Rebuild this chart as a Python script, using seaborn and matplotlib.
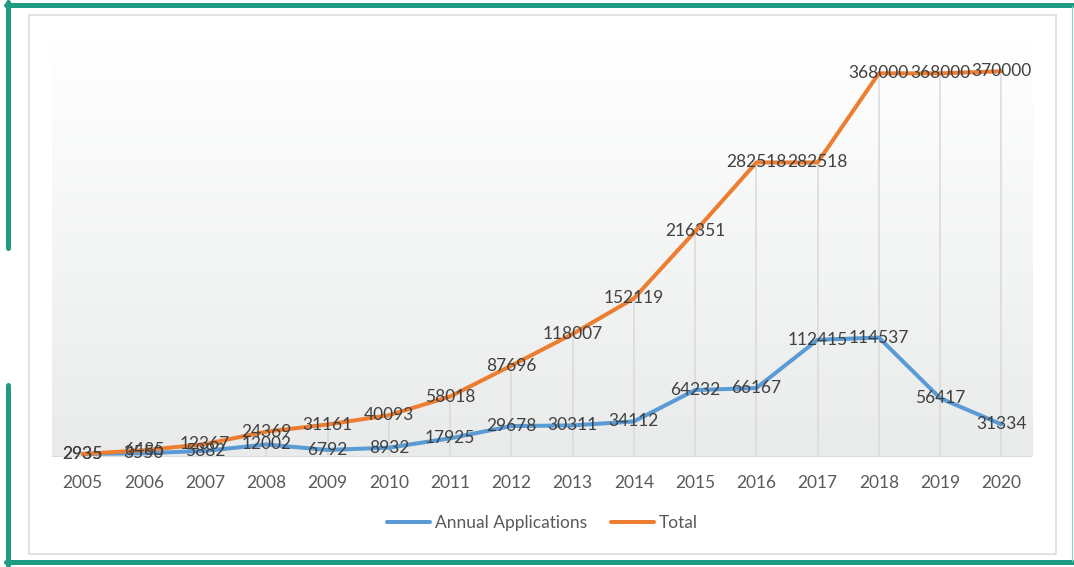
import numpy as np
import pandas as pd
import matplotlib.pyplot as plt
import seaborn as sns
from matplotlib.lines import Line2D
from matplotlib.patches import Rectangle
from matplotlib.colors import LinearSegmentedColormap

years = ['2005', '2006', '2007', '2008', '2009', '2010', '2011', '2012',
         '2013', '2014', '2015', '2016', '2017', '2018', '2019', '2020']
annual = [2935, 3550, 5882, 12002, 6792, 8932, 17925, 29678,
          30311, 34112, 64232, 66167, 112415, 114537, 56417, 31334]
total = [2935, 6485, 12367, 24369, 31161, 40093, 58018, 87696,
         118007, 152119, 216351, 282518, 282518, 368000, 368000, 370000]
series_names = ['Annual Applications', 'Total']
colors = {'Annual Applications': '#5B9BD5', 'Total': '#ED7D31'}

df = pd.DataFrame({
    'year': years * 2,
    'value': annual + total,
    'series': ['Annual Applications'] * len(years) + ['Total'] * len(years),
})

sns.set_style('white')
plt.rcParams['font.family'] = ['Lato', 'DejaVu Sans']

fig = plt.figure(figsize=(10.74, 5.67), dpi=100)
ax = fig.add_axes([0.0484, 0.194, 0.9125, 0.7355])

# gradient plot area background (white at top, light grey at bottom)
grad = np.linspace(0, 1, 256).reshape(-1, 1)
cmap = LinearSegmentedColormap.from_list('bg', ['#ffffff', '#e9ebeb'])
ax.imshow(grad, extent=[0, 1, 0, 1], origin='upper', transform=ax.transAxes,
          aspect='auto', cmap=cmap, zorder=0)

x = np.arange(len(years))
ax.vlines(x, 0, total, color='#d9d9d9', lw=1.1, zorder=1)
ax.axhline(0, color='#d9d9d9', lw=1.3, zorder=1)

sns.lineplot(data=df, x='year', y='value', hue='series', palette=colors,
             sort=False, lw=2.9, legend=False, ax=ax, zorder=3)

for i in range(len(years)):
    ax.text(i, annual[i], str(annual[i]), ha='center', va='center',
            fontsize=12.5, color='#404040', zorder=4)
    ax.text(i, total[i], str(total[i]), ha='center', va='center',
            fontsize=12.5, color='#404040', zorder=4)

ax.set_xlim(-0.5, len(years) - 0.5)
ax.set_ylim(0, 400000)
ax.set_xlabel('')
ax.set_ylabel('')
ax.set_yticks([])
ax.tick_params(axis='x', length=0, pad=13, labelsize=12.5, labelcolor='#595959')
for s in ax.spines.values():
    s.set_visible(False)

handles = [Line2D([], [], color=colors[n], lw=2.9) for n in series_names]
fig.legend(handles, series_names, loc='center', bbox_to_anchor=(0.505, 0.077),
           ncol=2, frameon=False, fontsize=12.5, labelcolor='#595959',
           handlelength=2.5, handletextpad=0.25, columnspacing=1.4)

# outer frame decorations
green = '#1e9b81'
fig.add_artist(Rectangle((0.027, 0.0229), 0.9562, 0.9506, transform=fig.transFigure,
                         fill=False, edgecolor='#d9d9d9', lw=1.1))
fig.add_artist(Line2D([0.0056, 1.0], [0.992, 0.992], transform=fig.transFigure,
                      color=green, lw=3.6))
fig.add_artist(Line2D([0.0056, 1.0], [0.008, 0.008], transform=fig.transFigure,
                      color=green, lw=3.6))
fig.add_artist(Line2D([0.0079, 0.0079], [0.996, 0.5626], transform=fig.transFigure,
                      color=green, lw=3.6))
fig.add_artist(Line2D([0.0079, 0.0079], [0.321, 0.004], transform=fig.transFigure,
                      color=green, lw=3.6))
fig.add_artist(Line2D([0.9985, 0.9985], [0.99, 0.01], transform=fig.transFigure,
                      color='#8fd3c5', lw=0.8))

fig.savefig('out.png', dpi=100)
